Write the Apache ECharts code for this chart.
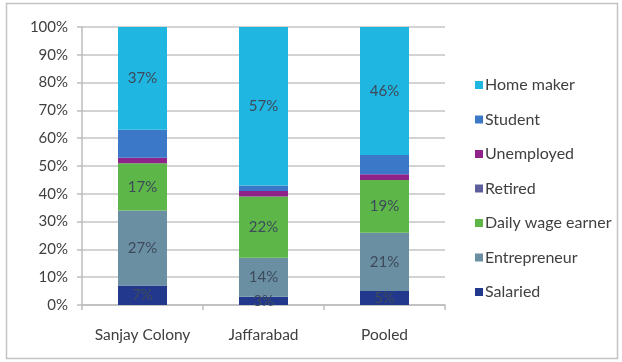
<!DOCTYPE html>
<html>
<head>
<meta charset="utf-8">
<script src="https://cdn.jsdelivr.net/npm/echarts@6/dist/echarts.min.js"></script>
<style>
  html, body { margin: 0; padding: 0; background: #ffffff; }
  #chart { width: 622px; height: 362px; }
</style>
</head>
<body>
<div id="chart"></div>
<script>
// Occupation shares (%) by locality
const categories = ['Sanjay Colony', 'Jaffarabad', 'Pooled'];
const salaried = [7, 3, 5];
const entrepreneur = [27, 14, 21];
const dailyWage = [17, 22, 19];
const retired = [0, 0, 0];
const unemployed = [2, 2, 2];
const student = [10, 2, 7];
const homeMaker = [37, 57, 46];
const yTicks = ['0%', '10%', '20%', '30%', '40%', '50%', '60%', '70%', '80%', '90%', '100%'];

const FONT = 'Lato, "Open Sans", sans-serif';
const labelStyle = {
  show: true,
  position: 'inside',
  formatter: p => p.value + '%',
  color: '#3d4a5a',
  fontFamily: FONT,
  fontSize: 15
};

function seg(name, data, color, withLabel) {
  return {
    name: name,
    type: 'bar',
    stack: 'total',
    data: data,
    barWidth: 49,
    itemStyle: { color: color },
    label: withLabel ? labelStyle : { show: false },
    emphasis: { disabled: true }
  };
}

const chart = echarts.init(document.getElementById('chart'), null, { renderer: 'canvas' });
chart.setOption({
  animation: false,
  backgroundColor: '#ffffff',
  graphic: [{
    type: 'rect',
    shape: { x: 6.5, y: 3.5, width: 611, height: 355 },
    style: { fill: 'none', stroke: '#c4c4c4', lineWidth: 1.5 },
    silent: true
  }],
  grid: { left: 82, right: 177, top: 27, bottom: 57 },
  legend: {
    orient: 'vertical',
    left: 470,
    top: 71,
    itemWidth: 8,
    itemHeight: 8,
    itemGap: 16.5,
    icon: 'rect',
    data: ['Home maker', 'Student', 'Unemployed', 'Retired', 'Daily wage earner', 'Entrepreneur', 'Salaried'],
    textStyle: { fontFamily: FONT, fontSize: 16, lineHeight: 18, color: '#404040', padding: [0, 0, 0, -3] }
  },
  xAxis: {
    type: 'category',
    data: categories,
    axisLine: { lineStyle: { color: '#bdbdbd', width: 1.5 } },
    axisTick: { show: true, length: 5, lineStyle: { color: '#bdbdbd', width: 1.5 } },
    axisLabel: { interval: 0, fontFamily: FONT, fontSize: 15.5, color: '#404040', margin: 22 }
  },
  yAxis: {
    type: 'value',
    min: 0,
    max: 100,
    interval: 10,
    axisLine: { show: true, lineStyle: { color: '#bdbdbd', width: 1.5 } },
    axisTick: { show: true, length: 5, lineStyle: { color: '#bdbdbd', width: 1.5 } },
    splitLine: { lineStyle: { color: '#c4c4c4', width: 1.5 } },
    axisLabel: {
      fontFamily: FONT,
      fontSize: 15,
      color: '#404040',
      margin: 14,
      formatter: v => yTicks[Math.round(v / 10)]
    }
  },
  series: [
    seg('Salaried', salaried, '#22388c', true),
    seg('Entrepreneur', entrepreneur, '#6a8fa3', true),
    seg('Daily wage earner', dailyWage, '#5cb748', true),
    seg('Retired', retired, '#5f5e9c', false),
    seg('Unemployed', unemployed, '#8e2489', false),
    seg('Student', student, '#3c78c8', false),
    seg('Home maker', homeMaker, '#1fb6e2', true)
  ]
});
</script>
</body>
</html>
